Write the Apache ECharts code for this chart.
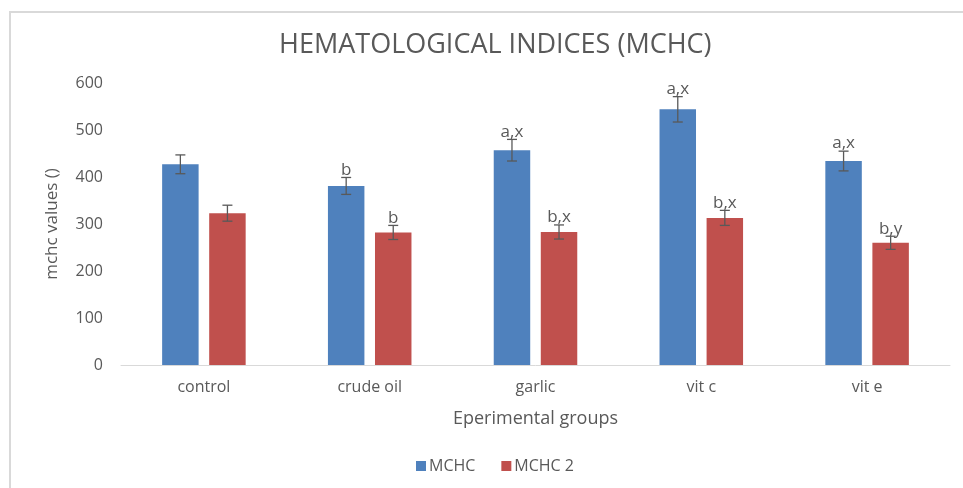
<!DOCTYPE html>
<html>
<head>
<meta charset="utf-8">
<script src="https://cdn.jsdelivr.net/npm/echarts@6/dist/echarts.min.js"></script>
<style>
  html, body { margin: 0; padding: 0; background: #fff; }
  #chart { width: 963px; height: 488px; }
</style>
</head>
<body>
<div id="chart"></div>
<script>
  const categories = ['control', 'crude oil', 'garlic', 'vit c', 'vit e'];
  const mchc = [427, 381, 457, 544, 434];
  const mchc2 = [323, 282, 283, 313, 260];
  const mchcErr = [20, 18, 23, 27, 21];
  const mchc2Err = [17, 15, 15, 16, 14];
  const mchcLabels = ['', 'b', 'a,x', 'a,x', 'a,x'];
  const mchc2Labels = ['', 'b', 'b,x', 'b,x', 'b,y'];
  const yTicks = [0, 100, 200, 300, 400, 500, 600];

  const font = '"Open Sans", sans-serif';
  const textColor = '#595959';
  const barW = 0.22, barGap = 0.29;

  // error bars + letters drawn on top of each bar
  function errorRender(sign, labels) {
    return function (params, api) {
      const idx = api.value(0);
      const band = api.size([1, 0])[0];
      const off = sign * band * (barW + barW * barGap) / 2;
      const top = api.coord([idx, api.value(1) + api.value(2)]);
      const bot = api.coord([idx, api.value(1) - api.value(2)]);
      const x = top[0] + off;
      const cap = 5;
      const st = { stroke: '#595959', lineWidth: 1.3 };
      const children = [
        { type: 'line', shape: { x1: x, y1: top[1], x2: x, y2: bot[1] }, style: st },
        { type: 'line', shape: { x1: x - cap, y1: top[1], x2: x + cap, y2: top[1] }, style: st },
        { type: 'line', shape: { x1: x - cap, y1: bot[1], x2: x + cap, y2: bot[1] }, style: st }
      ];
      const txt = labels[params.dataIndex];
      if (txt) {
        children.push({
          type: 'text',
          style: {
            text: txt, x: x, y: top[1] + 1,
            align: 'center', verticalAlign: 'bottom',
            fill: textColor, font: '17px ' + font
          }
        });
      }
      return { type: 'group', children: children };
    };
  }

  const chart = echarts.init(document.getElementById('chart'));
  chart.setOption({
    animation: false,
    textStyle: { fontFamily: font, color: textColor },
    graphic: [{
      type: 'rect',
      shape: { x: 10, y: 12, width: 1000, height: 600 },
      style: { fill: 'none', stroke: '#d9d9d9', lineWidth: 2 },
      silent: true
    }],
    title: {
      text: 'HEMATOLOGICAL INDICES (MCHC)',
      left: 274,
      top: 27,
      textStyle: { fontFamily: font, fontSize: 27, fontWeight: 'normal', color: textColor }
    },
    legend: {
      bottom: 9,
      left: 411,
      icon: 'rect',
      itemWidth: 10,
      itemHeight: 10,
      itemGap: 26,
      textStyle: { fontFamily: font, fontSize: 16, color: textColor, padding: [0, 0, 0, -2] },
      data: ['MCHC', 'MCHC 2']
    },
    grid: { left: 121, right: 13, top: 83, bottom: 123 },
    xAxis: {
      type: 'category',
      data: categories,
      axisLine: { lineStyle: { color: '#d9d9d9', width: 1 } },
      axisTick: { show: false },
      axisLabel: { fontSize: 16, color: textColor, margin: 14 },
      name: 'Eperimental groups',
      nameLocation: 'middle',
      nameGap: 45,
      nameTextStyle: { fontSize: 18, color: textColor }
    },
    yAxis: {
      type: 'value',
      min: yTicks[0],
      max: yTicks[yTicks.length - 1],
      interval: 100,
      axisLine: { show: false },
      axisTick: { show: false },
      splitLine: { show: false },
      axisLabel: { fontSize: 16, color: textColor, margin: 18 },
      name: 'mchc values ()',
      nameLocation: 'middle',
      nameGap: 60,
      nameTextStyle: { fontSize: 17, color: textColor }
    },
    series: [
      {
        name: 'MCHC', type: 'bar', data: mchc,
        barWidth: (barW * 100) + '%', barGap: (barGap * 100) + '%',
        itemStyle: { color: '#4F81BD' }
      },
      {
        name: 'MCHC 2', type: 'bar', data: mchc2,
        barWidth: (barW * 100) + '%', barGap: (barGap * 100) + '%',
        itemStyle: { color: '#C0504D' }
      },
      {
        type: 'custom', renderItem: errorRender(-1, mchcLabels),
        data: mchc.map((v, i) => [i, v, mchcErr[i]]),
        encode: { x: 0, y: 1 }, z: 5, silent: true
      },
      {
        type: 'custom', renderItem: errorRender(1, mchc2Labels),
        data: mchc2.map((v, i) => [i, v, mchc2Err[i]]),
        encode: { x: 0, y: 1 }, z: 5, silent: true
      }
    ]
  });
</script>
</body>
</html>
